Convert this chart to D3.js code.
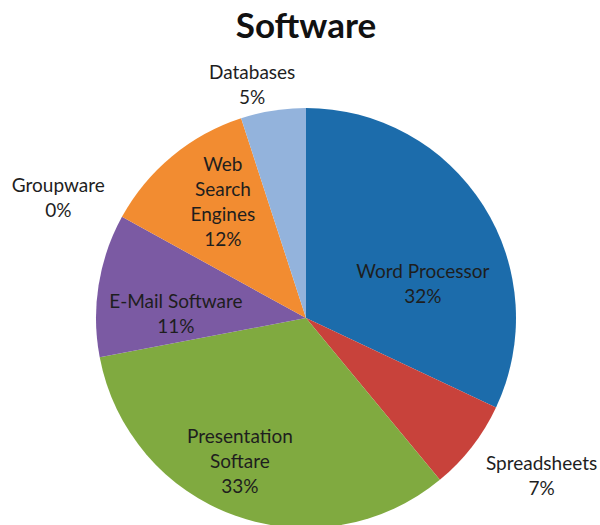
<!DOCTYPE html>
<html>
<head>
<meta charset="utf-8">
<script src="https://cdn.jsdelivr.net/npm/d3@7"></script>
<style>
  body { margin: 0; background: #fff; }
  svg text { font-family: Lato, "Open Sans", sans-serif; fill: #1e1e1e; }
</style>
</head>
<body>
<div class="chart"></div>
<script>
// data
const categories = ["Word Processor", "Spreadsheets", "Presentation Softare", "E-Mail Software", "Groupware", "Web Search Engines", "Databases"];
const shares = [32, 7, 33, 11, 0, 12, 5];
// how each label is broken into lines
const labelLines = [["Word Processor"], ["Spreadsheets"], ["Presentation", "Softare"], ["E-Mail Software"], ["Groupware"], ["Web", "Search", "Engines"], ["Databases"]];
const colors = ["#1c6cab", "#c8423b", "#80aa40", "#7b5aa3", "#4bacc6", "#f28c31", "#93b3dc"];

// label placement: radius as fraction of pie radius, angle nudge in degrees
const labelPlace = [[0.58, 16], [1.35, -4], [0.75, 5], [0.62, -7], [1.31, -3], [0.68, 4], [1.14, -4]];

const width = 600;
const height = 525;
const cx = 306, cy = 318, radius = 210;

const svg = d3.select(".chart")
  .append("svg")
    .attr("width", width)
    .attr("height", height);

// Title
svg.append("text")
  .attr("x", 306)
  .attr("y", 38)
  .attr("text-anchor", "middle")
  .style("font-size", "35px")
  .style("font-weight", "bold")
  .style("fill", "#111")
  .text("Software");

const rows = categories.map((c, i) => ({name: c, value: shares[i], i: i}));

const pie = d3.pie()
  .sort(null)
  .value(d => d.value);

const arc = d3.arc()
  .innerRadius(0)
  .outerRadius(radius);

const g = svg.append("g")
  .attr("transform", `translate(${cx}, ${cy})`);

const slices = pie(rows);

g.selectAll("path")
  .data(slices)
  .enter()
  .append("path")
    .attr("d", arc)
    .attr("fill", d => colors[d.data.i]);

// labels, placed along each slice's mid angle
const lineH = 25;
const labels = g.selectAll("text.lbl")
  .data(slices)
  .enter()
  .append("text")
    .attr("class", "lbl")
    .attr("text-anchor", "middle")
    .style("font-size", "19px")
    .attr("transform", d => {
      const p = labelPlace[d.data.i];
      const mid = (d.startAngle + d.endAngle) / 2 + p[1] * Math.PI / 180;
      const r = radius * p[0];
      const lab = d3.arc().innerRadius(r).outerRadius(r)
        .startAngle(mid).endAngle(mid);
      return `translate(${lab.centroid()})`;
    });

labels.each(function(d) {
  const lines = labelLines[d.data.i].concat([d.data.value + "%"]);
  const t = d3.select(this);
  const top = -(lines.length - 1) * lineH / 2;
  lines.forEach((s, k) => {
    t.append("tspan")
      .attr("x", 0)
      .attr("y", top + k * lineH)
      .attr("dy", "0.35em")
      .text(s);
  });
});
</script>
</body>
</html>
